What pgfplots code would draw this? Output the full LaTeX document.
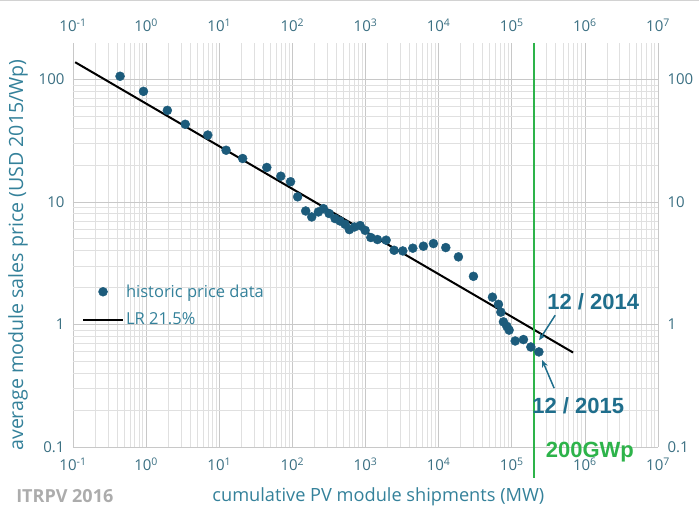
\documentclass[border=0pt]{standalone}
\usepackage{pgfplots}
\pgfplotsset{compat=1.18}
\usepackage{pgfplotstable}
\usepackage{fontspec}
\setmainfont{Open Sans}
\newfontfamily\annot{Liberation Sans}
\usetikzlibrary{arrows.meta}
\definecolor{tickc}{HTML}{3A6F82}
\definecolor{labc}{HTML}{34819A}
\definecolor{markc}{HTML}{1C5B7B}
\definecolor{annc}{HTML}{1F6E8C}
\definecolor{greenc}{HTML}{2DB34A}
\definecolor{gridmaj}{HTML}{C8C8C8}
\definecolor{gridmin}{HTML}{E0E0E0}

\pgfplotsset{
  dotleg/.style={legend image code/.code={\draw[mark repeat=2,mark phase=2,##1] plot coordinates {(0pt,0pt) (20pt,0pt) (40pt,0pt)};}},
  lineleg/.style={legend image code/.code={\draw[##1, line width=2pt] (0pt,0pt) -- (40pt,0pt);}},
}

\pgfplotstableread{
x y
0.44 106
0.92 79.8
1.95 55.8
3.43 43.0
6.97 35.1
12.4 26.4
20.9 22.6
44.7 19.1
69.4 16.2
94.4 14.6
118 11.0
152 8.43
184 7.54
227 8.28
266 8.81
318 8.04
384 7.31
449 6.98
526 6.56
602 5.94
705 6.24
844 6.41
988 5.86
1183 5.12
1456 4.93
1914 4.87
2462 4.03
3236 3.98
4436 4.19
6194 4.35
8492 4.57
12530 4.24
18660 3.56
29930 2.47
54450 1.67
65800 1.46
70950 1.26
76960 1.05
85700 0.966
92100 0.899
111400 0.733
144600 0.753
182400 0.655
235000 0.597
}\pricedata

\begin{document}
\begin{tikzpicture}
\path[use as bounding box] (-73pt,-69pt) rectangle (626pt,447pt);
\draw[gray!35, line width=1pt] (-73pt,446pt) -- (626pt,446pt);
\begin{axis}[
  scale only axis, width=585pt, height=404pt,
  xmode=log, ymode=log,
  xmin=0.1, xmax=1e7, ymin=0.1, ymax=198,
  xtick={0.1,1,10,100,1000,10000,100000,1000000,10000000},
  xticklabels={10\textsuperscript{-1},10\textsuperscript{0},10\textsuperscript{1},10\textsuperscript{2},10\textsuperscript{3},10\textsuperscript{4},10\textsuperscript{5},10\textsuperscript{6},10\textsuperscript{7}},
  minor xtick={0.2,0.3,0.4,0.5,0.6,0.7,0.8,0.9,2,3,4,5,6,7,8,9,20,30,40,50,60,70,80,90,200,300,400,500,600,700,800,900,2000,3000,4000,5000,6000,7000,8000,9000,20000,30000,40000,50000,60000,70000,80000,90000,200000,300000,400000,500000,600000,700000,800000,900000,2000000,3000000,4000000,5000000,6000000,7000000,8000000,9000000},
  ytick={0.1,1,10,100},
  yticklabels={0.1,1,10,100},
  minor ytick={0.2,0.3,0.4,0.5,0.6,0.7,0.8,0.9,2,3,4,5,6,7,8,9,20,30,40,50,60,70,80,90},
  grid=both,
  major grid style={gridmaj, line width=0.7pt},
  minor grid style={gridmin, line width=0.6pt},
  major tick length=0pt, minor tick length=0pt,
  axis line style={draw=none},
  tick label style={font=\fontsize{15}{17}\selectfont, text=tickc},
  xticklabel style={yshift=-7pt},
  yticklabel style={xshift=-5pt},
  clip=false,
  xlabel={cumulative PV module shipments (MW)},
  ylabel={average module sales price (USD 2015/Wp)},
  label style={text=labc},
  xlabel style={font=\fontsize{18.2}{20}\selectfont, at={(axis description cs:0.522,-0.124)}, anchor=center},
  ylabel style={font=\fontsize{19.6}{21}\selectfont, at={(axis description cs:-0.094,0.475)}, anchor=center},
  legend style={draw=none, fill=none, font=\fontsize{16.5}{18}\selectfont, text=labc,
    at={(rel axis cs:0.010,0.412)}, anchor=north west, row sep=10pt},
  legend cell align=left,
]
\addplot[only marks, mark=*, mark size=4.5pt, mark options={fill=markc, draw=markc}, dotleg]
  table {\pricedata};
\addlegendentry{historic price data}
\addplot[black, line width=2pt, lineleg]
  coordinates {(0.107,138) (690000,0.59)};
\addlegendentry{LR 21.5\%}

\draw[greenc, line width=2.5pt] (axis cs:200000,198) -- ([yshift=-31pt]axis cs:200000,0.1);
\node[font=\annot\bfseries\fontsize{22}{24}\selectfont, text=greenc] at ([yshift=-5pt]axis cs:1170000,0.1) {200GWp};
\node[font=\annot\bfseries\fontsize{22}{24}\selectfont, text=annc] at (axis cs:1300000,1.52) {12 / 2014};
\node[font=\annot\bfseries\fontsize{22}{24}\selectfont, text=annc] at (axis cs:809000,0.219) {12 / 2015};
\draw[annc, line width=1.5pt, -{Stealth[length=7pt,width=6pt]}] (axis cs:393000,1.19) -- (axis cs:237000,0.743);
\draw[annc, line width=1.5pt, -{Stealth[length=7pt,width=6pt]}] (axis cs:380000,0.302) -- (axis cs:261000,0.511);
\node[font=\bfseries\fontsize{18}{20}\selectfont, text=gray!65, anchor=center] at (axis description cs:-0.014,-0.121) {ITRPV 2016};
\end{axis}
\begin{axis}[
  scale only axis, width=585pt, height=404pt,
  xmode=log, ymode=log,
  xmin=0.1, xmax=1e7, ymin=0.1, ymax=198,
  xtick={0.1,1,10,100,1000,10000,100000,1000000,10000000},
  xticklabels={10\textsuperscript{-1},10\textsuperscript{0},10\textsuperscript{1},10\textsuperscript{2},10\textsuperscript{3},10\textsuperscript{4},10\textsuperscript{5},10\textsuperscript{6},10\textsuperscript{7}},
  ytick={0.1,1,10,100},
  yticklabels={0.1,1,10,100},
  xticklabel pos=right, yticklabel pos=right,
  major tick length=0pt, minor tick length=0pt,
  axis line style={draw=none},
  tick label style={font=\fontsize{15}{17}\selectfont, text=tickc},
  xticklabel style={yshift=8pt},
  yticklabel style={xshift=6pt},
]
\end{axis}
\end{tikzpicture}
\end{document}
